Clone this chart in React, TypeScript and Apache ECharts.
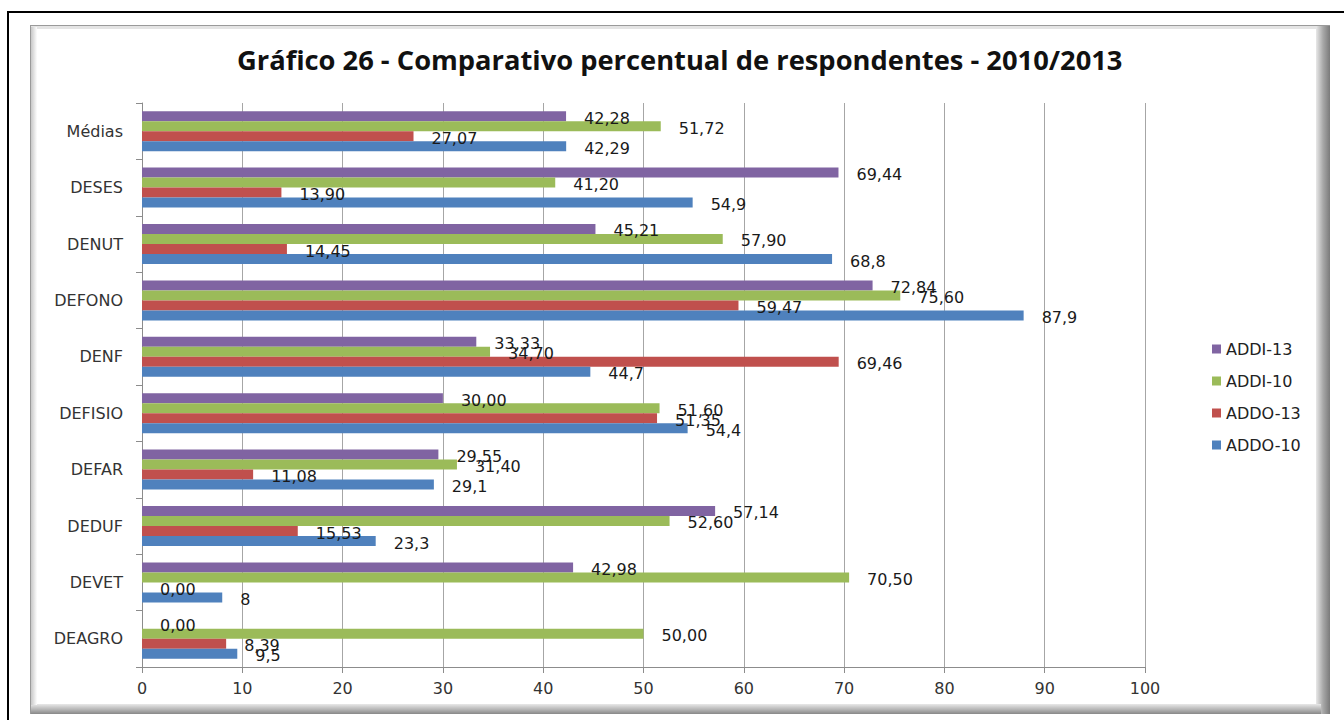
import React, { useEffect, useRef } from "react";
import * as echarts from "echarts";

const categories = ["DEAGRO", "DEVET", "DEDUF", "DEFAR", "DEFISIO", "DENF", "DEFONO", "DENUT", "DESES", "Médias"];
const addo10 = [9.5, 8, 23.3, 29.1, 54.4, 44.7, 87.9, 68.8, 54.9, 42.29];
const addo13 = [8.39, 0.0, 15.53, 11.08, 51.35, 69.46, 59.47, 14.45, 13.9, 27.07];
const addi10 = [50.0, 70.5, 52.6, 31.4, 51.6, 34.7, 75.6, 57.9, 41.2, 51.72];
const addi13 = [0.0, 42.98, 57.14, 29.55, 30.0, 33.33, 72.84, 45.21, 69.44, 42.28];
const xTicks = { min: 0, max: 100, interval: 10 };
const titleText = "Gráfico 26 - Comparativo percentual de respondentes - 2010/2013";

const FONT = "DejaVu Sans";

const fmt2 = (v: number) => v.toFixed(2).replace(".", ",");
const fmtRaw = (v: number) => String(v).replace(".", ",");

export default function App() {
  const ref = useRef<HTMLDivElement>(null);
  useEffect(() => {
    if (!ref.current) return;
    const chart = echarts.init(ref.current, null, { renderer: "svg" });
    const mkSeries = (name: string, data: number[], color: string, f: (v: number) => string) => ({
      name,
      type: "bar",
      data,
      barGap: "0%",
      barCategoryGap: "29%",
      itemStyle: { color },
      label: {
        show: true,
        position: "right",
        distance: 18,
        offset: [0, 2],
        fontFamily: FONT,
        fontSize: 16,
        color: "#1a1a1a",
        formatter: (p: any) => f(p.value),
      },
    });
    chart.setOption({
      animation: false,
      textStyle: { fontFamily: FONT },
      title: {
        text: titleText,
        left: 232,
        top: 41,
        textStyle: { fontFamily: "Open Sans", fontWeight: "bold", fontSize: 27.3, color: "#111" },
      },
      graphic: [
        { type: "rect", z: -10, shape: { x: 8, y: 12, width: 1345, height: 720 }, style: { fill: "none", stroke: "#000", lineWidth: 2 } },
        { type: "rect", z: -9, shape: { x: 30, y: 25, width: 1300, height: 689 }, style: { fill: "#9a9a9a" } },
        { type: "rect", z: -8, shape: { x: 31, y: 26, width: 1289, height: 681 }, style: { fill: "#e4e4e4" } },
        {
          type: "rect", z: -7, shape: { x: 1316, y: 26, width: 14, height: 688 },
          style: { fill: new echarts.graphic.LinearGradient(0, 0, 1, 0, [{ offset: 0, color: "#e8e8e8" }, { offset: 0.5, color: "#a8a8a8" }, { offset: 1, color: "#7a7a7a" }]) },
        },
        {
          type: "rect", z: -7, shape: { x: 31, y: 704, width: 1290, height: 10 },
          style: { fill: new echarts.graphic.LinearGradient(0, 0, 0, 1, [{ offset: 0, color: "#e8e8e8" }, { offset: 0.6, color: "#b0b0b0" }, { offset: 1, color: "#888" }]) },
        },
        {
          type: "rect", z: -6, shape: { x: 36, y: 29, width: 1280, height: 675 },
          style: { fill: "#fff" },
        },
        {
          type: "rect", z: -5, shape: { x: 31, y: 27, width: 6, height: 678 },
          style: { fill: new echarts.graphic.LinearGradient(0, 0, 1, 0, [{ offset: 0, color: "#c8c8c8" }, { offset: 1, color: "#fdfdfd" }]) },
        },
      ],
      legend: {
        orient: "vertical",
        left: 1207,
        top: 336,
        itemWidth: 9,
        itemHeight: 9,
        itemGap: 16,
        icon: "rect",
        data: ["ADDI-13", "ADDI-10", "ADDO-13", "ADDO-10"],
        textStyle: { fontFamily: FONT, fontSize: 16, color: "#222" },
      },
      grid: { left: 142, right: 199, top: 103, bottom: 53, containLabel: false },
      xAxis: {
        type: "value",
        min: xTicks.min,
        max: xTicks.max,
        interval: xTicks.interval,
        axisLine: { show: true, lineStyle: { color: "#8c8c8c", width: 1 } },
        axisTick: { show: true, length: 6, lineStyle: { color: "#8c8c8c" } },
        splitLine: { show: true, lineStyle: { color: "#a6a6a6", width: 1 } },
        axisLabel: { fontFamily: FONT, fontSize: 16, color: "#333", margin: 13 },
      },
      yAxis: {
        type: "category",
        data: categories,
        axisLine: { show: true, lineStyle: { color: "#8c8c8c", width: 1 } },
        axisTick: { show: true, length: 6, lineStyle: { color: "#8c8c8c" } },
        splitLine: { show: false },
        axisLabel: { fontFamily: FONT, fontSize: 16, color: "#333", margin: 19 },
      },
      series: [
        mkSeries("ADDI-13", addi13, "#8064A2", fmt2),
        mkSeries("ADDI-10", addi10, "#9BBB59", fmt2),
        mkSeries("ADDO-13", addo13, "#C0504D", fmt2),
        mkSeries("ADDO-10", addo10, "#4F81BD", fmtRaw),
      ],
    });
    return () => chart.dispose();
  }, []);
  return <div ref={ref} style={{ position: "absolute", left: 0, top: 0, width: 1344, height: 720 }} />;
}
